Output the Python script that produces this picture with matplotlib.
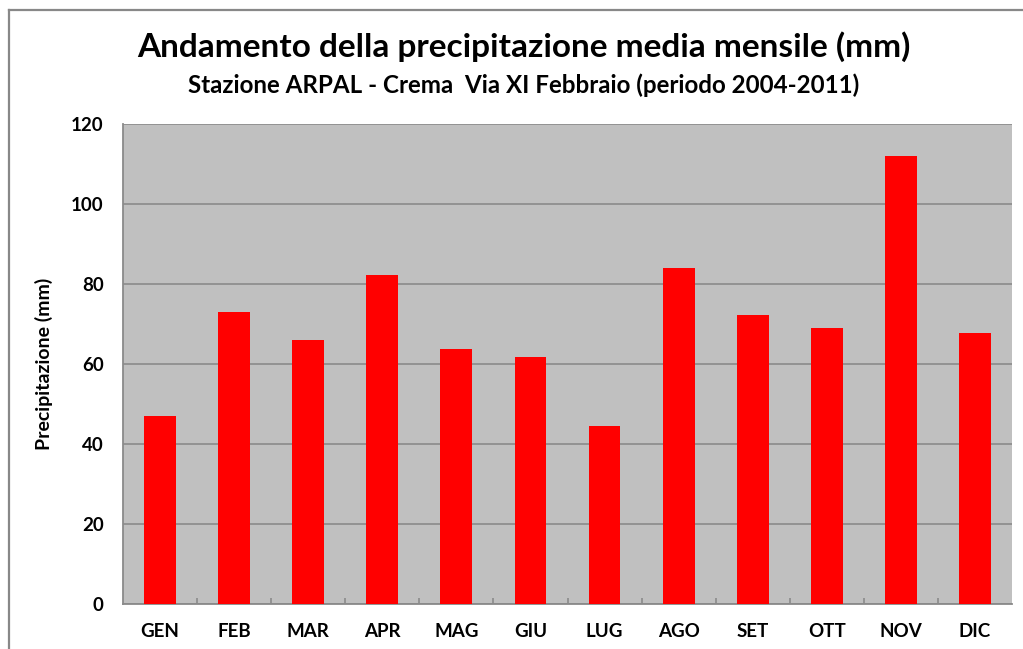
import numpy as np
import matplotlib.pyplot as plt
from matplotlib.lines import Line2D

mesi = ["GEN", "FEB", "MAR", "APR", "MAG", "GIU", "LUG", "AGO", "SET", "OTT", "NOV", "DIC"]
pioggia = [46.9, 73.1, 65.9, 82.2, 63.7, 61.7, 44.5, 83.9, 72.2, 69.0, 111.9, 67.8]
y_ticks = [0, 20, 40, 60, 80, 100, 120]

plt.rcParams['font.family'] = ['Lato', 'DejaVu Sans']

W, H = 1023, 649
fig = plt.figure(figsize=(W / 100, H / 100), dpi=100)
fig.patch.set_facecolor("white")

# cornice del grafico (solo sinistra e sopra visibili)
fig.add_artist(Line2D([9 / W, 9 / W], [0, 1 - 10 / H], transform=fig.transFigure,
                      color="#888888", lw=1.6))
fig.add_artist(Line2D([9 / W, 1], [1 - 10 / H, 1 - 10 / H], transform=fig.transFigure,
                      color="#888888", lw=1.6))

ax = fig.add_axes([123 / W, (H - 604) / H, (1012 - 123) / W, (604 - 124) / H])
ax.set_facecolor("#c0c0c0")

x = np.arange(len(mesi))
ax.bar(x, pioggia, width=0.43, color="#ff0000", zorder=3)

ax.set_xlim(-0.5, len(mesi) - 0.5)
ax.set_ylim(0, 120)
ax.set_yticks(y_ticks)
ax.yaxis.grid(True, color="#8a8a8a", lw=1.2, zorder=1)
ax.set_axisbelow(True)

ax.set_xticks(x)
ax.set_xticklabels(mesi, fontsize=13.5, fontweight="bold")
ax.set_xticks(x[:-1] + 0.5, minor=True)
ax.tick_params(axis="x", which="major", length=0, pad=14)
ax.tick_params(axis="x", which="minor", direction="in", length=4.5, color="#8a8a8a", width=1.2)
ax.tick_params(axis="y", length=0, pad=14, labelsize=13.5)
for lab in ax.get_yticklabels():
    lab.set_fontweight("bold")

for s in ["left", "bottom"]:
    ax.spines[s].set_color("#8a8a8a")
    ax.spines[s].set_linewidth(1.3)
for s in ["top", "right"]:
    ax.spines[s].set_visible(False)

ax.set_ylabel("Precipitazione (mm)", fontsize=14, fontweight="bold", labelpad=13)

fig.text(524 / W, 1 - 47 / H, "Andamento della precipitazione media mensile (mm)",
         ha="center", va="center", fontsize=24, fontweight="bold")
fig.text(524 / W, 1 - 85 / H, "Stazione ARPAL - Crema  Via XI Febbraio (periodo 2004-2011)",
         ha="center", va="center", fontsize=17.4, fontweight="bold")

fig.savefig("out.png", dpi=100)
